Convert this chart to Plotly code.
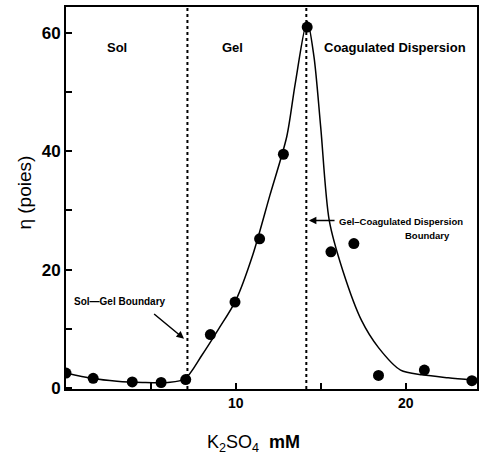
import plotly.graph_objects as go

# measured data points
k2so4_mM = [0, 1.6, 3.9, 5.6, 7.05, 8.5, 9.95, 11.4, 12.8, 14.2, 15.6, 16.95, 18.4, 21.1, 23.9]
viscosity = [2.5, 1.6, 1.0, 0.9, 1.4, 9.0, 14.5, 25.2, 39.5, 61.0, 23.0, 24.4, 2.1, 3.0, 1.2]

# fitted curve
curve_x = [0, 1.5, 3, 4.5, 6, 7, 8, 9, 10, 11, 12, 13, 13.5, 14.2, 14.6, 15, 15.5, 16.3, 17.4, 18.4, 19.7, 21, 22.5, 24]
curve_y = [2.5, 1.6, 1.1, 0.9, 0.9, 1.5, 5.5, 10, 14.8, 22.5, 32.5, 42.5, 51.5, 62, 56, 44, 28.3, 19.8, 11.4, 6.8, 3.0, 2.2, 1.7, 1.3]

sol_gel_boundary = 7.15
gel_coag_boundary = 14.15

x_ticks = [10, 20]
x_tick_labels = ["10", "20"]
x_minor_ticks = [5, 15]
y_ticks = [0, 20, 40, 60]
y_tick_labels = ["0", "20", "40", "60"]
y_minor_ticks = [10, 30, 50]

SANS = "Liberation Sans, Arial, sans-serif"

fig = go.Figure()
fig.add_trace(go.Scatter(x=curve_x, y=curve_y, mode="lines",
                         line=dict(color="black", width=1.5, shape="spline", smoothing=0.8),
                         hoverinfo="skip", showlegend=False))
fig.add_trace(go.Scatter(x=k2so4_mM, y=viscosity, mode="markers",
                         marker=dict(color="black", size=11), showlegend=False))

for xb in [sol_gel_boundary, gel_coag_boundary]:
    fig.add_shape(type="line", x0=xb, x1=xb, y0=0, y1=1, xref="x", yref="paper",
                  line=dict(color="black", width=2, dash="dot"))

def lab(x, y, text, size=13, **kw):
    fig.add_annotation(x=x, y=y, text=text, showarrow=False,
                       font=dict(family=SANS, size=size, color="black"), **kw)

lab(3.0, 57.5, "<b>Sol</b>")
lab(9.8, 57.5, "<b>Gel</b>")
lab(19.4, 57.5, "<b>Coagulated Dispersion</b>")

lab(3.16, 14.6, "<b>Sol—Gel Boundary</b>", size=10)
fig.add_annotation(x=6.95, y=8.3, ax=5.1, ay=12.7, axref="x", ayref="y", text="",
                   showarrow=True, arrowhead=2, arrowsize=1, arrowwidth=1.5, arrowcolor="black")
lab(15.93, 28.1, "<b>Gel–Coagulated Dispersion</b>", size=9.5, xanchor="left")
lab(21.3, 25.7, "<b>Boundary</b>", size=9.5)
fig.add_annotation(x=14.3, y=28.3, ax=15.9, ay=28.3, axref="x", ayref="y", text="",
                   showarrow=True, arrowhead=2, arrowsize=1, arrowwidth=1.5, arrowcolor="black")

# axis titles
fig.add_annotation(x=-0.1, y=0.514, xref="paper", yref="paper", text="η (poies)",
                   textangle=-90, showarrow=False, xanchor="center", yanchor="middle",
                   font=dict(family=SANS, size=19, color="black"))
fig.add_annotation(x=0.455, y=-0.142, xref="paper", yref="paper",
                   text="K<sub>2</sub>SO<sub>4</sub>  <b>mM</b>", showarrow=False,
                   xanchor="center", yanchor="middle",
                   font=dict(family=SANS, size=18, color="black"))

fig.update_xaxes(range=[0, 24.2], tickvals=x_ticks, ticktext=x_tick_labels,
                 ticks="inside", ticklen=6, tickwidth=1.5, tickcolor="black",
                 minor=dict(tickvals=x_minor_ticks, ticks="inside", ticklen=6,
                            tickwidth=1.5, tickcolor="black", showgrid=False),
                 showline=True, linecolor="black", linewidth=2, mirror=True,
                 showgrid=False, zeroline=False,
                 tickfont=dict(family=SANS, size=14, color="black", weight="bold"))
fig.update_yaxes(range=[-0.2, 64.4], tickvals=y_ticks, ticktext=y_tick_labels,
                 ticks="inside", ticklen=6, tickwidth=1.5, tickcolor="black",
                 minor=dict(tickvals=y_minor_ticks, ticks="inside", ticklen=6,
                            tickwidth=1.5, tickcolor="black", showgrid=False),
                 showline=True, linecolor="black", linewidth=2, mirror=True,
                 showgrid=False, zeroline=False,
                 tickfont=dict(family=SANS, size=17, color="black", weight="bold"))

fig.update_layout(width=483, height=455, margin=dict(l=66, r=4, t=7, b=66),
                  plot_bgcolor="white", paper_bgcolor="white")

fig.write_html("out.html", config={"displayModeBar": False},
               post_script="document.body.style.margin='0';")
